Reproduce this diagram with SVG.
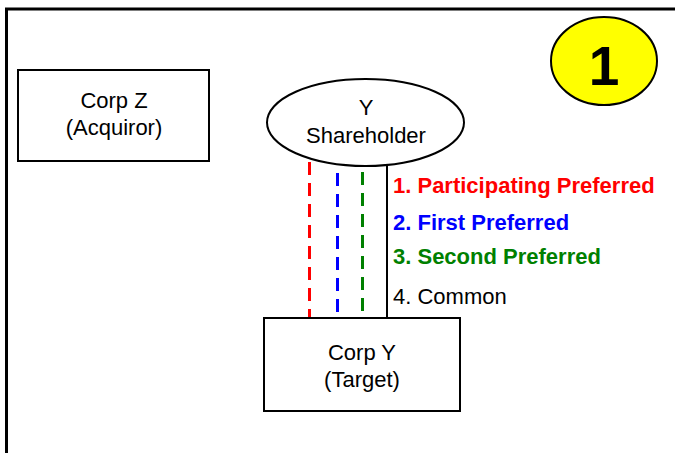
<svg xmlns="http://www.w3.org/2000/svg" width="675" height="453" viewBox="0 0 675 453">
<style>
text{font-family:"Liberation Sans",Arial,sans-serif;font-size:22px;}
.c{text-anchor:middle;fill:#000;}
.b{font-weight:bold;}
.box{fill:#fff;stroke:#000;stroke-width:2;}
.dash{stroke-width:3;stroke-dasharray:13 8;fill:none;}
</style>
<rect width="675" height="453" fill="#fff"/>
<path d="M6.5,453 V9 H676" fill="none" stroke="#000" stroke-width="3"/>
<g id="badge">
<ellipse cx="604" cy="61" rx="53" ry="44" fill="#ffff00" stroke="#000" stroke-width="2"/>
<text x="604" y="85" class="c b" style="font-size:55px">1</text>
</g>
<g id="connectors">
<line x1="309.5" y1="162" x2="309.5" y2="318" class="dash" stroke="#ff0000"/>
<line x1="337.5" y1="173" x2="337.5" y2="318" class="dash" stroke="#0000ff"/>
<line x1="362.5" y1="172" x2="362.5" y2="318" class="dash" stroke="#008000"/>
<line x1="387" y1="166" x2="387" y2="318" stroke="#000" stroke-width="2"/>
</g>
<g id="labels">
<text x="393" y="193" class="b" fill="#ff0000">1. Participating Preferred</text>
<text x="393" y="230" class="b" fill="#0000ff">2. First Preferred</text>
<text x="393" y="264" class="b" fill="#008000">3. Second Preferred</text>
<text x="393" y="304" fill="#000">4. Common</text>
</g>
<g id="corpZ">
<rect x="18" y="70" width="191" height="91" class="box"/>
<text x="114" y="108" class="c">Corp Z</text>
<text x="114" y="135" class="c">(Acquiror)</text>
</g>
<g id="yShareholder">
<ellipse cx="365.5" cy="122.5" rx="98.5" ry="43.5" class="box"/>
<text x="366" y="115" class="c">Y</text>
<text x="366" y="143" class="c">Shareholder</text>
</g>
<g id="corpY">
<rect x="264" y="318" width="196" height="93" class="box"/>
<text x="362" y="360" class="c">Corp Y</text>
<text x="362" y="387" class="c">(Target)</text>
</g>
</svg>
